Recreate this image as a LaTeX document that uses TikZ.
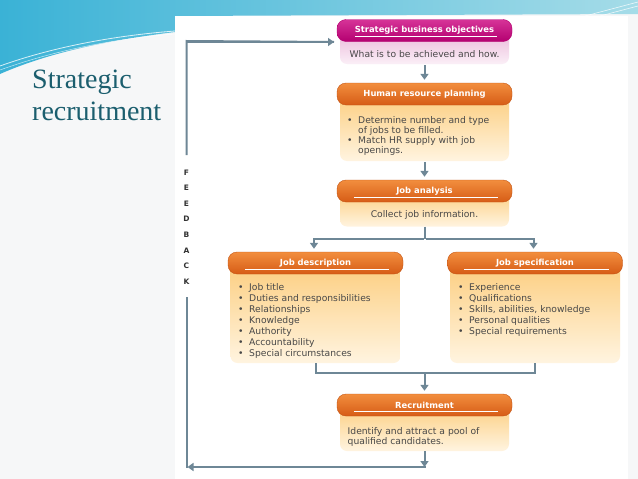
\documentclass[tikz,border=0pt]{standalone}
\usepackage{fontspec}
\setmainfont{Liberation Serif}
\newfontfamily\dvs{DejaVu Sans}
\usetikzlibrary{arrows.meta,calc}
\definecolor{conn}{RGB}{110,135,150}
\definecolor{orhi}{RGB}{242,142,62}
\definecolor{orlo}{RGB}{214,92,22}
\definecolor{ordk}{RGB}{196,84,20}
\definecolor{bdtop}{RGB}{252,206,128}
\definecolor{bdbot}{RGB}{255,244,224}
\definecolor{mghi}{RGB}{214,52,152}
\definecolor{mglo}{RGB}{180,0,112}
\definecolor{pktop}{RGB}{234,182,216}
\definecolor{pkbot}{RGB}{251,239,247}
\definecolor{txtc}{RGB}{72,72,72}
\definecolor{titlec}{RGB}{27,94,110}
\definecolor{slide}{RGB}{246,247,248}
\definecolor{waveA}{RGB}{58,178,214}
\definecolor{waveB}{RGB}{165,220,232}
\definecolor{fbc}{RGB}{50,50,50}
\newcommand{\itm}[1]{\makebox[11pt][l]{\textbullet}#1}
\newcommand{\cnt}[1]{\hspace*{11pt}#1}
\begin{document}
\begin{tikzpicture}[x=1pt,y=-1pt,
  hdr/.style={minimum width=175pt,minimum height=22pt,rounded corners=9pt,top color=orhi,bottom color=orlo,draw=ordk,line width=0.4pt,text=white,font=\dvs\bfseries\fontsize{8.4}{10}\selectfont,inner sep=0pt},
  mhdr/.style={hdr,top color=mghi,bottom color=mglo,draw=mglo},
  bodybox/.style={minimum width=169pt,rounded corners=7pt,top color=bdtop,bottom color=bdbot,draw=none,inner sep=0pt},
  pbody/.style={bodybox,top color=pktop,bottom color=pkbot},
  txt/.style={font=\dvs\fontsize{9.2}{10}\selectfont,text=txtc,inner sep=0pt,align=left},
  ltxt/.style={txt,font=\dvs\fontsize{9.2}{11}\selectfont},
  ctxt/.style={txt,align=center},
  conline/.style={draw=conn,line width=2pt},
  arr/.style={conline,-{Triangle[width=8pt,length=6pt]}},
  uline/.style={draw=white,line width=0.5pt},
  fbtxt/.style={font=\dvs\bfseries\fontsize{7.5}{15.6}\selectfont,text=fbc,align=center,inner sep=0pt}
]
\useasboundingbox (0,0) rectangle (638,479);
% slide background
\fill[slide] (0,0) rectangle (638,479);
\shade[left color=waveA,right color=waveB] (0,0) -- (638,0) -- (638,14) -- (175,16) -- (175,32) .. controls (110,40) and (50,52) .. (0,74) -- cycle;
\draw[white,line width=0.8pt,opacity=0.8] (0,66) .. controls (50,48) and (110,36) .. (175,31);
\draw[white,line width=0.5pt,opacity=0.7] (0,70) .. controls (50,52) and (110,39) .. (175,34);
\draw[white,line width=0.6pt,opacity=0.8] (585,16) -- (638,2);
\draw[white,line width=0.6pt,opacity=0.8] (600,16) -- (638,6);
\fill[white] (175,16) rectangle (628,479);

% title
\node[font=\fontsize{28}{32}\selectfont,text=titlec,align=left,anchor=north west,inner sep=0pt] (title) at (32,70) {Strategic\\recruitment};

% box 1
\node[pbody,minimum height=34pt] (b1) at (424.5,47) {};
\node[mhdr] (h1) at (424.5,30.5) {Strategic business objectives};
\draw[uline] ($(h1.west)+(18,6)$) -- ($(h1.east)+(-15,6)$);
\node[ctxt] (t1) at (424.5,54.5) {What is to be achieved and how.};

% box 2
\node[bodybox,minimum height=66pt] (b2) at (424.5,128) {};
\node[hdr] (h2) at (424.5,94) {Human resource planning};
\node[txt,anchor=north west] (t2) at (347,116.3) {\itm{Determine number and type}\\\cnt{of jobs to be filled.}\\\itm{Match HR supply with job}\\\cnt{openings.}};

% box 3
\node[bodybox,minimum height=35pt] (b3) at (424.5,209) {};
\node[hdr] (h3) at (424.5,191) {Job analysis};
\draw[uline] ($(h3.west)+(17,6)$) -- ($(h3.east)+(-14,6)$);
\node[ctxt] (t3) at (424.5,215) {Collect job information.};

% box 4
\node[bodybox,minimum height=100pt,minimum width=170pt] (b4) at (315.5,313) {};
\node[hdr] (h4) at (315.5,263) {Job description};
\draw[uline] ($(h4.west)+(17,6)$) -- ($(h4.east)+(-14,6)$);
\node[ltxt,anchor=north west] (t4) at (238,283.3) {\itm{Job title}\\\itm{Duties and responsibilities}\\\itm{Relationships}\\\itm{Knowledge}\\\itm{Authority}\\\itm{Accountability}\\\itm{Special circumstances}};

% box 5
\node[bodybox,minimum height=100pt,minimum width=170pt] (b5) at (535,313) {};
\node[hdr] (h5) at (535,263) {Job specification};
\draw[uline] ($(h5.west)+(17,6)$) -- ($(h5.east)+(-14,6)$);
\node[ltxt,anchor=north west] (t5) at (458,283.3) {\itm{Experience}\\\itm{Qualifications}\\\itm{Skills, abilities, knowledge}\\\itm{Personal qualities}\\\itm{Special requirements}};

% box 6
\node[bodybox,minimum height=46pt] (b6) at (424.5,428) {};
\node[hdr] (h6) at (424.5,405) {Recruitment};
\draw[uline] ($(h6.west)+(17,6)$) -- ($(h6.east)+(-14,6)$);
\node[txt,anchor=north west] (t6) at (347.5,427.5) {Identify and attract a pool of\\qualified candidates.};

% feedback label
\node[fbtxt] (fb) at (186.5,227) {F\\E\\E\\D\\B\\A\\C\\K};

% coordinates
\coordinate (j1) at (424.5,239);
\coordinate (j2) at (424.5,373);
\coordinate (c1) at (424.5,467);
\coordinate (c2) at (186.5,467);
\coordinate (c3) at (186.5,297);
\coordinate (c4) at (186.5,155);
\coordinate (c5) at (186.5,42);
\coordinate (c6) at (334,42);

% connectors
\draw[arr,shorten <=1pt,shorten >=3pt] (b1.south) -- (h2.north);
\draw[arr,shorten <=1pt,shorten >=3pt] (b2.south) -- (h3.north);
\draw[conline] (b3.south) -- (j1);
\draw[arr,shorten >=3pt] ($(j1)+(-1,0)$) -| ($(h4.north)+(-1.5,0)$);
\draw[arr,shorten >=3pt] ($(j1)+(1,0)$) -| ($(h5.north)+(-1.5,0)$);
\draw[conline] (b4.south) |- (j2);
\draw[conline] (b5.south) |- (j2);
\draw[arr,shorten >=3pt] (j2) -- (h6.north);
\draw[arr] (b6.south) -- (c1);
\draw[arr] ($(c1)+(1,0)$) -- ($(c2)+(1,0)$);
\draw[conline] ($(c2)+(0,1)$) -- (c3);
\draw[conline] (c4) -- ($(c5)+(0,-1)$) -- (c6);
\draw[arr] (c5) -- (c6);
\end{tikzpicture}
\end{document}
